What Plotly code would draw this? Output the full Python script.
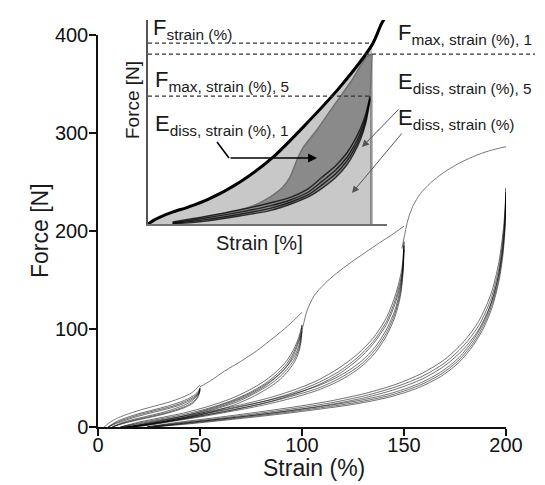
import plotly.graph_objects as go

# ================= MAIN CHART DATA (Strain %, Force N) =================
# Loop 1: max strain 50 %
L1_first_x = [3, 6, 10, 15, 21, 28, 35, 41, 46, 50]
L1_first_y = [0, 5, 9.5, 13.5, 17.5, 21.5, 25.5, 30, 35, 43]
U1_x = [50, 49.6, 48.5, 46.5, 43, 38, 32, 25, 18, 12, 7]
U1_ys = [[40, 36, 32, 27.5, 23, 19, 15, 11.5, 8, 4.5, 0],
         [39, 34.5, 30, 25.5, 21.3, 17.5, 13.8, 10.4, 7.1, 3.8, 0],
         [38, 33.5, 28.8, 24.2, 20.2, 16.5, 13, 9.6, 6.5, 3.3, 0]]
R1_x = [5, 9, 14, 20, 27, 34, 40, 44.5, 47.5, 49.3, 50]
R1_ys = [[0, 5.5, 9.6, 13.6, 17.4, 21.2, 25.2, 29.2, 33, 36.8, 40],
         [0, 4.5, 8.4, 12.4, 16.2, 19.8, 23.7, 27.7, 31.6, 35.5, 39],
         [0, 3.6, 7.3, 11.1, 14.9, 18.5, 22.3, 26.3, 30.3, 34.2, 38]]

# Loop 2: max strain 100 %
L2_first_x = [50, 55, 62, 70, 78, 86, 93, 100]
L2_first_y = [41, 47, 57, 67, 78, 91, 103, 117]
U2_x = [100, 99.5, 98.5, 96.5, 93.5, 89.5, 84, 77, 68, 57, 45, 33, 22, 13]
U2_ys = [[104, 93, 83, 73, 64, 55, 46, 37, 28, 20, 12.8, 7, 2.8, 0],
         [101, 90, 80, 70, 61, 52, 43, 34.5, 25.5, 18, 11.2, 6, 2, 0],
         [98, 87, 77, 67, 58, 49, 40.5, 32, 23.5, 16.2, 10, 5.2, 1.6, 0]]
R2_x = [11, 20, 30, 42, 54, 65, 74, 82, 88, 92.5, 96, 98.5, 100]
R2_ys = [[0, 5, 9.2, 14.3, 21, 28.8, 37.5, 47.5, 57.5, 67.5, 79.5, 92, 104],
         [0, 4, 8, 12.8, 19, 26.5, 34.8, 44.5, 54.5, 64.5, 76.5, 89.5, 101],
         [0, 3.2, 7, 11.4, 17.2, 24.5, 32.5, 42, 52, 62, 74, 87, 98]]

# Loop 3: max strain 150 %
L3_first_x = [99, 100.5, 102.5, 106, 111, 117, 124, 131, 138, 144, 150]
L3_first_y = [92, 103, 119, 134, 146, 157, 168, 178, 188, 196, 205]
U3_x = [150, 149.5, 148.2, 145.5, 141.5, 136, 129, 120, 109, 96, 82, 67, 52, 38, 26, 17]
U3_ys = [[189, 164, 141, 119, 100, 82, 67, 54, 43, 34, 26.5, 20, 13.8, 8, 3.3, 0],
         [185, 160, 137, 115.5, 96.5, 79, 64, 51.5, 40.5, 32, 24.5, 18, 12.2, 7, 2.6, 0],
         [181, 156, 133, 112, 93.5, 76, 61.5, 49, 38.5, 30, 22.8, 16.6, 11, 6.2, 2.1, 0]]
R3_x = [15, 28, 42, 56, 70, 84, 97, 108, 118, 127, 135, 141.5, 146, 149, 150]
R3_ys = [[0, 5.5, 10.8, 16.5, 22.6, 29.8, 38.5, 48, 60, 74, 91, 112, 136, 162, 189],
         [0, 4.5, 9.3, 14.8, 20.7, 27.6, 36, 45.3, 56.5, 70.5, 87.5, 108, 131.5, 157, 185],
         [0, 3.6, 8.2, 13.3, 19, 25.8, 34, 43, 54, 68, 85, 105, 128, 153, 181]]

# Loop 4: max strain 200 %
L4_first_x = [149, 150.5, 152, 154.5, 158, 163, 169, 176, 184, 192, 200]
L4_first_y = [182, 198, 212, 226, 238, 249, 259, 268, 276, 282, 286]
U4_x = [200, 199.6, 198.5, 196.5, 193.5, 189.5, 184, 177, 168, 157, 143, 126, 107, 87, 66, 45, 27]
U4_ys = [[244, 213, 184, 156, 131, 109, 89, 71, 56, 44, 34, 26.3, 20.2, 14.6, 9.5, 4.6, 0],
         [240, 209, 180, 152, 127.5, 106, 86, 68.5, 53.7, 42, 32.2, 24.8, 19, 13.6, 8.6, 3.9, 0],
         [236, 205, 176, 148.5, 124, 103, 83.5, 66, 51.5, 40, 30.6, 23.4, 17.8, 12.6, 7.8, 3.3, 0]]
R4_x = [24, 40, 58, 77, 96, 114, 131, 146, 159, 170, 179, 186.5, 192.5, 196.5, 199, 200]
R4_ys = [[0, 5, 9.6, 14.8, 20.4, 26.6, 34.3, 43.5, 55, 69, 86.5, 107.5, 135, 168, 208, 244],
         [0, 4.2, 8.5, 13.4, 18.8, 24.6, 32, 41, 51.8, 65.5, 82.5, 103, 130, 162, 202, 240],
         [0, 3.5, 7.6, 12.2, 17.4, 23, 30, 38.6, 49, 62.5, 79, 99, 125.5, 157, 197, 236]]

X_TICKS = [0, 50, 100, 150, 200]
Y_TICKS = [0, 100, 200, 300, 400]

# ================= INSET DATA (schematic, arbitrary units) =================
IN_env_x = [0, 2.5, 5.4, 11.2, 18, 26.4, 41.2, 56, 71.2, 86, 100.3, 104.7, 108]
IN_env_y = [0, 1.8, 3.4, 5.9, 8.3, 11.8, 20.6, 32.8, 49.5, 67.2, 87.8, 98.5, 104]
IN_first_x = [12.1, 27.8, 45.7, 54.6, 60.4, 63.6, 66.7, 69.4, 75.6, 82.8, 90.4, 98.0, 100.3]
IN_first_y = [0.5, 3.9, 8.3, 13.2, 18.1, 23.0, 31.4, 37.3, 46.1, 57.4, 69.1, 81.9, 83.3]
IN_band_x = [11, 25, 41, 55, 64, 72, 78, 84, 89, 92, 95, 97.5, 99.4]
IN_band_ys = [[1.0, 3.6, 6.9, 10.4, 13.2, 17.5, 23.0, 28.6, 34.8, 40.0, 46.5, 54.0, 62.7],
              [0.6, 2.8, 5.8, 9.0, 11.9, 15.8, 21.0, 26.5, 32.6, 37.8, 44.5, 52.5, 62.0],
              [0.3, 2.0, 4.8, 7.8, 10.8, 14.5, 19.3, 24.6, 30.8, 36.0, 42.8, 51.0, 61.4],
              [0.0, 1.3, 3.9, 6.7, 9.8, 13.4, 17.6, 22.8, 28.9, 34.2, 41.0, 49.5, 60.8]]
IN_strain_max = 100.3
F_STRAIN = 88.7
F_MAX_1 = 83.3
F_MAX_5 = 62.7

FONT = "Liberation Sans, Arial, Helvetica, sans-serif"
# page body has an 8px margin: the figure is drawn 8px smaller so it fits the window
W, H = 537, 477
ML, MR, MT, MB = 90, 39, 12, 58
PW, PH = W - ML - MR, H - MT - MB


def px(xp):  # reference-window pixel -> paper
    return (xp - 98) / PW


def py(yp):
    return (427 - yp) / PH


fig = go.Figure()


def line(x, y, color, width, xa="x", ya="y", fill=None, fillcolor=None, smooth=0.8):
    fig.add_trace(go.Scatter(
        x=x, y=y, mode="lines", xaxis=xa, yaxis=ya,
        line=dict(color=color, width=width, shape="spline", smoothing=smooth),
        fill=fill, fillcolor=fillcolor, hoverinfo="skip", showlegend=False))


# ---------- main loops ----------
BAND = "rgba(0,0,0,0.8)"
FIRST = "#555555"
for ux, uys, rx, rys in [(U1_x, U1_ys, R1_x, R1_ys), (U2_x, U2_ys, R2_x, R2_ys),
                         (U3_x, U3_ys, R3_x, R3_ys), (U4_x, U4_ys, R4_x, R4_ys)]:
    for yy in uys:
        line(ux, yy, BAND, 0.7)
    for yy in rys:
        line(rx, yy, BAND, 0.7)
for fx, fy in [(L1_first_x, L1_first_y), (L2_first_x, L2_first_y),
               (L3_first_x, L3_first_y), (L4_first_x, L4_first_y)]:
    line(fx, fy, FIRST, 0.8)

# ---------- inset ----------
LIGHT = "#c8c8c8"
DARK = "#8a8a8a"
k = IN_env_x.index(IN_strain_max) + 1
line(IN_env_x[:k], IN_env_y[:k], "rgba(0,0,0,0)", 0, "x2", "y2", "tozeroy", LIGHT)
line(IN_first_x, IN_first_y, "rgba(0,0,0,0)", 0, "x2", "y2", "tozeroy", DARK)
line(IN_band_x, IN_band_ys[-1], "rgba(0,0,0,0)", 0, "x2", "y2", "tozeroy", LIGHT)
line([IN_strain_max, IN_strain_max], [0, F_MAX_1], "#9a9a9a", 1.2, "x2", "y2")
line([IN_strain_max, IN_band_x[-1]], [F_MAX_1, F_MAX_5], "#707070", 1.2, "x2", "y2")
line(IN_first_x, IN_first_y, "#707070", 1.5, "x2", "y2")
for yy in IN_band_ys:
    line(IN_band_x, yy, "rgba(0,0,0,0.75)", 1.4, "x2", "y2")
line(IN_env_x, IN_env_y, "#000000", 3, "x2", "y2")

# dashed level lines
shapes = []
for yv, xend in [(F_STRAIN, px(372)), (F_MAX_1, px(535)), (F_MAX_5, px(370))]:
    shapes.append(dict(type="line", xref="paper", yref="y2", x0=px(148), x1=xend, y0=yv, y1=yv,
                       line=dict(color="#333333", width=1.2, dash="4px,3px")))
# bent part of the E_diss,1 arrow
shapes.append(dict(type="line", xref="paper", yref="paper", x0=px(217), y0=py(142), x1=px(229), y1=py(158),
                   line=dict(color="#000000", width=1.5)))

annotations = []


def label(text, xpix, ypix, size=22, anchor="left", angle=0):
    annotations.append(dict(text=text, x=px(xpix), y=py(ypix), xref="paper", yref="paper",
                            xanchor=anchor, yanchor="middle", showarrow=False, textangle=angle,
                            font=dict(family=FONT, size=size, color="#1a1a1a")))


label("F<sub>strain (%)</sub>", 151, 29)
label("F<sub>max, strain (%), 5</sub>", 153, 81)
label("E<sub>diss, strain (%), 1</sub>", 153, 125)
label("F<sub>max, strain (%), 1</sub>", 396, 34)
label("E<sub>diss, strain (%), 5</sub>", 396, 83)
label("E<sub>diss, strain (%)</sub>", 396, 119)
label("Strain [%]", 259, 243, 20, "center")
label("Force [N]", 133, 100, 19, "center", -90)
label("Strain (%)", 314, 468, 23, "center")
label("Force [N]", 40, 231, 23, "center", -90)

# arrows
for hx, hy, tx, ty, col, w in [(317, 158, 229, 158, "#000000", 1.5),
                               (352, 193, 403, 132, "#555555", 1.0),
                               (362, 147, 400, 108, "#555555", 1.0)]:
    annotations.append(dict(x=px(hx), y=py(hy), xref="paper", yref="paper", text="",
                            showarrow=True, ax=tx - hx, ay=ty - hy, arrowhead=2,
                            arrowsize=1.2 if w > 1.2 else 1.4, arrowwidth=w, arrowcolor=col))

axis_common = dict(showgrid=False, zeroline=False, showline=True, linecolor="#111111", linewidth=1.5,
                   ticks="outside", ticklen=7, tickwidth=1.5, tickcolor="#111111",
                   tickfont=dict(family=FONT, size=20, color="#111111"))

fig.update_layout(
    width=W, height=H, margin=dict(l=ML, r=MR, t=MT, b=MB, autoexpand=False),
    paper_bgcolor="white", plot_bgcolor="rgba(0,0,0,0)",
    xaxis=dict(range=[0, 200], tickvals=X_TICKS, domain=[0, 1], anchor="y",
               ticklabelstandoff=-8, **axis_common),
    yaxis=dict(range=[0, 400], tickvals=Y_TICKS, domain=[0, 392 / PH], anchor="x",
               ticklabelstandoff=-3, **axis_common),
    xaxis2=dict(range=[0, 107], domain=[px(148), px(387)], anchor="y2", showgrid=False, zeroline=False,
                showline=True, linecolor="#707070", linewidth=2, showticklabels=False, ticks=""),
    yaxis2=dict(range=[0, 100], domain=[py(224), 1.0], anchor="x2", showgrid=False, zeroline=False,
                showline=True, linecolor="#555555", linewidth=1.5, showticklabels=False, ticks=""),
    shapes=shapes, annotations=annotations, showlegend=False,
    font=dict(family=FONT),
)

fig.write_html("out.html")
